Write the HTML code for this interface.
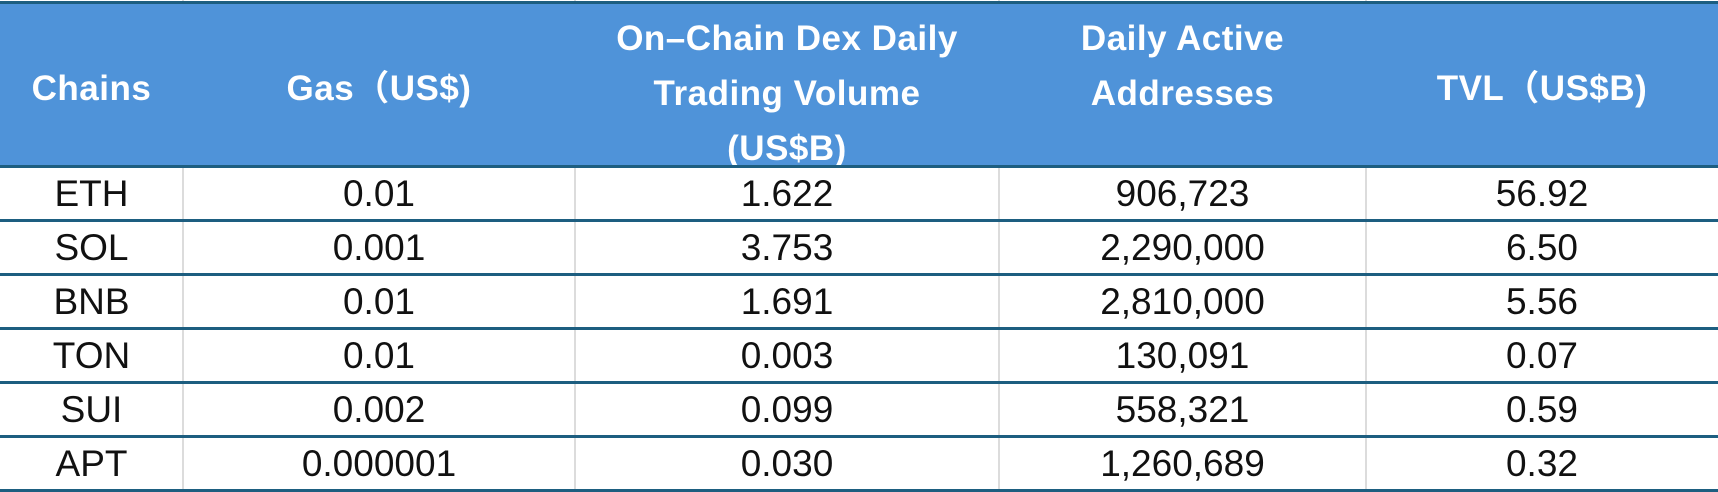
<!DOCTYPE html>
<html><head><meta charset="utf-8"><style>
body{margin:0;width:1718px;height:492px;background:#fff;position:relative;overflow:hidden;font-family:"Liberation Sans","Noto Sans CJK SC",sans-serif;}
.h{position:absolute;color:#fff;font-size:35px;text-align:center;line-height:55px;font-weight:bold;letter-spacing:0.5px;}
.hl{position:absolute;left:0;width:1718px;height:3px;background:#1d5e80;}
.vl{position:absolute;top:0;width:2px;height:492px;background:#dcdcdc;}
.c{position:absolute;font-size:37px;color:#111;text-align:center;height:54px;line-height:54px;}
</style></head><body>
<div class="vl" style="left:182px"></div>
<div class="vl" style="left:574px"></div>
<div class="vl" style="left:998px"></div>
<div class="vl" style="left:1365px"></div>
<div style="position:absolute;left:0;top:3px;width:1718px;height:164px;background:#4f93d9"></div>
<div class="h" style="left:0;width:183px;top:61px">Chains</div>
<div class="h" style="left:183px;width:392px;top:61px">Gas（US$)</div>
<div class="h" style="left:575px;width:424px;top:11px;height:156px;overflow:hidden">On–Chain Dex Daily<br>Trading Volume<br>(US$B)</div>
<div class="h" style="left:999px;width:367px;top:11px">Daily Active<br>Addresses</div>
<div class="h" style="left:1366px;width:352px;top:61px">TVL（US$B)</div>
<div class="hl" style="top:1px"></div>
<div class="hl" style="top:165px"></div>
<div class="hl" style="top:219px"></div>
<div class="hl" style="top:273px"></div>
<div class="hl" style="top:327px"></div>
<div class="hl" style="top:381px"></div>
<div class="hl" style="top:435px"></div>
<div class="hl" style="top:489px"></div>
<div style="position:absolute;left:0;top:167px;width:1718px">
<div style="position:relative;height:54px"><div class="c" style="left:0;width:183px">ETH</div><div class="c" style="left:183px;width:392px">0.01</div><div class="c" style="left:575px;width:424px">1.622</div><div class="c" style="left:999px;width:367px">906,723</div><div class="c" style="left:1366px;width:352px">56.92</div></div>
<div style="position:relative;height:54px"><div class="c" style="left:0;width:183px">SOL</div><div class="c" style="left:183px;width:392px">0.001</div><div class="c" style="left:575px;width:424px">3.753</div><div class="c" style="left:999px;width:367px">2,290,000</div><div class="c" style="left:1366px;width:352px">6.50</div></div>
<div style="position:relative;height:54px"><div class="c" style="left:0;width:183px">BNB</div><div class="c" style="left:183px;width:392px">0.01</div><div class="c" style="left:575px;width:424px">1.691</div><div class="c" style="left:999px;width:367px">2,810,000</div><div class="c" style="left:1366px;width:352px">5.56</div></div>
<div style="position:relative;height:54px"><div class="c" style="left:0;width:183px">TON</div><div class="c" style="left:183px;width:392px">0.01</div><div class="c" style="left:575px;width:424px">0.003</div><div class="c" style="left:999px;width:367px">130,091</div><div class="c" style="left:1366px;width:352px">0.07</div></div>
<div style="position:relative;height:54px"><div class="c" style="left:0;width:183px">SUI</div><div class="c" style="left:183px;width:392px">0.002</div><div class="c" style="left:575px;width:424px">0.099</div><div class="c" style="left:999px;width:367px">558,321</div><div class="c" style="left:1366px;width:352px">0.59</div></div>
<div style="position:relative;height:54px"><div class="c" style="left:0;width:183px">APT</div><div class="c" style="left:183px;width:392px">0.000001</div><div class="c" style="left:575px;width:424px">0.030</div><div class="c" style="left:999px;width:367px">1,260,689</div><div class="c" style="left:1366px;width:352px">0.32</div></div>
</div>
</body></html>
